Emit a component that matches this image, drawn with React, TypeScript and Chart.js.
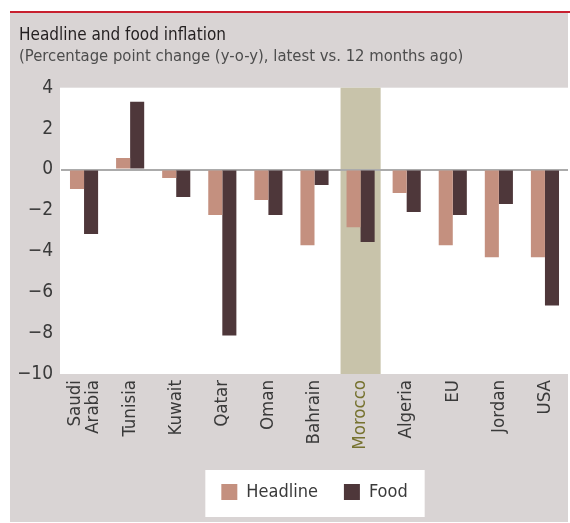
import React, { useEffect, useRef } from 'react';
import { Chart, registerables } from 'chart.js';

Chart.register(...registerables);

const categories: (string | string[])[] = [
  ['Saudi', 'Arabia'], 'Tunisia', 'Kuwait', 'Qatar', 'Oman', 'Bahrain',
  'Morocco', 'Algeria', 'EU', 'Jordan', 'USA',
];
const headline = [-0.95, 0.56, -0.41, -2.23, -1.49, -3.7, -2.82, -1.15, -3.7, -4.29, -4.29];
const food = [-3.16, 3.31, -1.35, -8.12, -2.23, -0.76, -3.55, -2.08, -2.23, -1.69, -6.65];
const yMin = -10;
const yMax = 4;
const yStep = 2;
const highlightIndex = 6;

const titleText = 'Headline and food inflation';
const subtitleText = '(Percentage point change (y-o-y), latest vs. 12 months ago)';

const FONT = "'DejaVu Sans Condensed', 'Liberation Sans Narrow', 'Roboto', sans-serif";
const GRAY_BG = '#D9D4D4';
const RED = '#C8202F';
const HEAD_COLOR = '#C4907F';
const FOOD_COLOR = '#4E373A';
const BAND_COLOR = '#C8C3AA';
const TEXT_COLOR = '#3A3A3A';
const HIGHLIGHT_TEXT = '#76722F';
const X_FONT_SIZE = 18.5;
const X_LINE_HEIGHT = 1.0;

const framePlugin = {
  id: 'frame',
  afterLayout(chart: any) {
    const lg = chart.legend;
    const ca = chart.chartArea;
    if (lg && ca) {
      lg.left = ca.left;
      lg.right = ca.right;
      lg.width = ca.right - ca.left;
    }
  },
  beforeDraw(chart: any) {
    const { ctx, chartArea, scales, width, height } = chart;
    // centre multi-line rotated labels on their tick
    const xs = scales.x;
    const items = xs.getLabelItems();
    items.forEach((it: any) => {
      const lines = Array.isArray(it.label) ? it.label.length : 1;
      if (lines > 1 && !it._centred) {
        it.options.translation[0] -= ((lines - 1) * X_FONT_SIZE * X_LINE_HEIGHT) / 2;
        it._centred = true;
      }
    });
    ctx.save();
    ctx.fillStyle = '#FFFFFF';
    ctx.fillRect(0, 0, width, height);
    ctx.fillStyle = GRAY_BG;
    ctx.fillRect(10, 13, chartArea.right - 10, height - 14);
    ctx.fillStyle = RED;
    ctx.fillRect(10, 11, width - 10, 2);
    // plot background
    ctx.fillStyle = '#FFFFFF';
    ctx.fillRect(chartArea.left - 1, chartArea.top, chartArea.right - chartArea.left + 1, chartArea.bottom - chartArea.top);
    // highlight band
    const step = xs.getPixelForValue(1) - xs.getPixelForValue(0);
    const cx = xs.getPixelForValue(highlightIndex);
    ctx.fillStyle = BAND_COLOR;
    ctx.fillRect(cx - step * 0.435, chartArea.top, step * 0.87, chartArea.bottom - chartArea.top);
    // legend white box
    const lg = chart.legend;
    if (lg && lg.legendHitBoxes && lg.legendHitBoxes.length) {
      const hb = lg.legendHitBoxes;
      const first = hb[0];
      const last = hb[hb.length - 1];
      const l = first.left - 16;
      const r = last.left + last.width + 17;
      const t = first.top - 13;
      const b = first.top + 34;
      ctx.fillStyle = '#FFFFFF';
      ctx.fillRect(l, t, r - l, b - t);
    }
    ctx.restore();
  },
};

export default function App() {
  const ref = useRef<HTMLCanvasElement | null>(null);
  useEffect(() => {
    if (!ref.current) return;
    const chart = new Chart(ref.current, {
      type: 'bar',
      data: {
        labels: categories,
        datasets: [
          { label: 'Headline', data: headline, backgroundColor: HEAD_COLOR, borderWidth: 0 },
          { label: 'Food', data: food, backgroundColor: FOOD_COLOR, borderWidth: 0 },
        ],
      },
      options: {
        responsive: false,
        animation: false,
        events: [],
        layout: { padding: { left: 19, right: 2, top: 0, bottom: 12 } },
        datasets: { bar: { categoryPercentage: 0.61, barPercentage: 1 } },
        scales: {
          x: {
            grid: { display: false, drawTicks: false },
            border: { display: false },
            afterFit(scale: any) { scale.height = 83; },
            ticks: {
              autoSkip: false,
              maxRotation: 90,
              minRotation: 90,
              padding: 6,
              font: { family: FONT, size: X_FONT_SIZE, lineHeight: X_LINE_HEIGHT },
              color: (c: any) => (c.index === highlightIndex ? HIGHLIGHT_TEXT : TEXT_COLOR),
            },
          },
          y: {
            min: yMin,
            max: yMax,
            afterFit(scale: any) { scale.width = 42; },
            grid: {
              drawTicks: false,
              color: (c: any) => (c.tick && c.tick.value === 0 ? '#ABABAB' : 'rgba(0,0,0,0)'),
              lineWidth: 2,
            },
            border: { display: false },
            ticks: {
              stepSize: yStep,
              padding: 8,
              font: { family: FONT, size: 19 },
              color: TEXT_COLOR,
              callback: (v: any) => String(v).replace('-', '\u2212'),
            },
          },
        },
        plugins: {
          tooltip: { enabled: false },
          title: {
            display: true,
            text: titleText,
            align: 'start',
            color: '#231F20',
            font: { family: FONT, size: 17, weight: 'normal' as any, lineHeight: 1.25 },
            padding: { top: 25, bottom: 0 },
          },
          subtitle: {
            display: true,
            text: subtitleText,
            align: 'start',
            color: '#4D4D4D',
            font: { family: FONT, size: 16.5, weight: 'normal' as any, lineHeight: 1.3 },
            padding: { top: 0, bottom: 20 },
          },
          legend: {
            position: 'bottom',
            align: 'center',
            labels: {
              boxWidth: 16,
              boxHeight: 16,
              padding: 26,
              color: TEXT_COLOR,
              font: { family: FONT, size: 18 },
            },
          },
        },
      },
      plugins: [framePlugin],
    });
    return () => chart.destroy();
  }, []);
  return (
    <div style={{ position: 'fixed', left: 0, top: 0, width: 570, height: 523 }}>
      <canvas ref={ref} width={570} height={523} style={{ display: 'block', width: 570, height: 523 }} />
    </div>
  );
}
